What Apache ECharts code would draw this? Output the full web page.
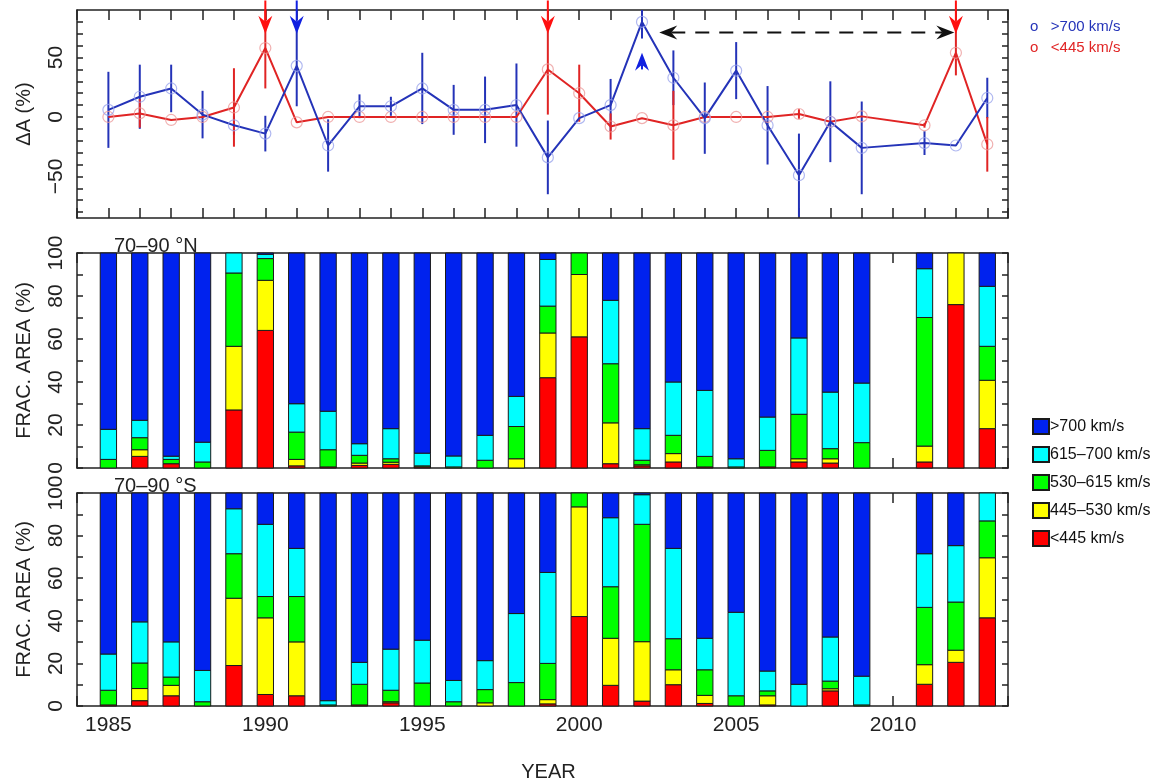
<!DOCTYPE html>
<html><head><meta charset="utf-8">
<script src="https://cdn.jsdelivr.net/npm/echarts@6/dist/echarts.min.js"></script>
<style>html,body{margin:0;padding:0;background:#fff}#c{width:1152px;height:783px}</style>
</head><body><div id="c"></div>
<script>
// ---------- DATA ----------
const years = [1985,1986,1987,1988,1989,1990,1991,1992,1993,1994,1995,1996,1997,1998,1999,2000,2001,2002,2003,2004,2005,2006,2007,2008,2009,2011,2012,2013];

// Top panel: ΔA (%)
const dFast    = [6,17,24,2,-7,-14,43,-24,9,9,24,6,6,10,-34,-1,10,80,33,-1,39,-7,-49,-4,-26,-22,-24,16];
const dFastErr = [32,27,20,20,8,15,34,22,10,8,30,21,28,35,31,0,22,14,23,30,24,33,35,34,39,10,0,17];
const dSlow    = [0,3,-2.5,0,8,58,-4.5,0,0,0,0,0,0,0,40,20,-8,-1,-7,0,0,0,2.5,-4,0.5,-7,54,-23];
const dSlowErr = [0,12,0,0,33,34,0,0,0,0,0,0,0,0,38,24,11,0,29,0,0,0,4,0,0,2,19,23];

// Annotation arrows (years / ΔA values)
const redDownArrowYears  = [1990,1999,2012];
const blueDownArrowYears = [1991];
const blueUpArrowYears   = [2002];
const downArrowFromTo = [98,70];
const upArrowFromTo   = [40,54];
const spanArrow = [2002.55, 2011.95, 71];

// Middle panel: 70-90 °N fractional area (%), bins from slow to fast
const nRed    = [0,5.4,2,0,27,64,1,0.5,1.2,1.7,0.5,0,0,0,42,61,2,1,2.8,0.5,0,0.5,2.8,2.3,0,2.8,76,18.3];
const nYellow = [0,3.1,0,0,29.6,23.3,3,0,1.1,1,0,0,0,4.3,20.8,29,19,0.5,3.9,0,0,0,1.5,2,0,7.4,24,22.5];
const nGreen  = [4,5.6,2,2.8,34.1,10.1,12.7,8,3.6,1.6,0.5,0.5,3.6,15,12.5,10,27.5,2.1,8.5,4.9,0.5,7.7,20.7,4.7,11.8,59.8,0,15.8];
const nCyan   = [14,8.1,1.5,9.2,9.3,2,13.2,17.9,5.4,14,5.9,5.1,11.6,14,21.7,0,29.5,14.7,24.8,30.7,3.8,15.5,35.5,26.3,27.7,22.7,0,27.9];
const nBlue   = [82,77.8,94.5,88,0,0.6,70.1,73.6,88.7,81.7,93.1,94.4,84.8,66.7,3,0,22,81.7,60,63.9,95.7,76.3,39.5,64.7,60.5,7.3,0,15.5];

// Bottom panel: 70-90 °S fractional area (%)
const sRed    = [0.5,2.5,4.8,0,19,5.4,4.8,0,0.5,1.5,0,0,0,0,1,42,9.7,2.3,10,1.2,0,0.5,0,7.1,0,10.2,20.5,41.4];
const sYellow = [0,5.7,4.9,0,31.6,36,25.3,0,0,0.5,0,0,1.5,0,2,51.5,22.1,27.9,7,3.8,0,4.3,0,1,0,9.2,5.7,28.2];
const sGreen  = [6.9,12,3.9,2,20.9,10,21.3,0.5,9.7,5.4,10.8,2,6.2,11,17,6.5,24.2,55.1,14.6,12,4.8,2.3,0,3.6,0.5,26.9,22.6,17.3];
const sCyan   = [17,19.3,16.5,14.7,21.1,33.9,22.6,2,10.3,19.3,20.1,10,13.6,32.4,42.7,0,32.4,13.9,42.4,14.8,39.2,9.3,10.2,20.7,13.5,25.2,26.5,13.1];
const sBlue   = [75.6,60.5,69.9,83.3,7.4,14.7,26,97.5,79.5,73.3,69.1,88,78.7,56.6,37.3,0,11.6,0.8,26,68.2,56,83.6,89.8,67.6,86,28.5,24.7,0];

const binNames = ['<445 km/s','445–530 km/s','530–615 km/s','615–700 km/s','>700 km/s'];
const legendOrder = ['>700 km/s','615–700 km/s','530–615 km/s','445–530 km/s','<445 km/s'];
const dTickValues  = [-80,-70,-60,-50,-40,-30,-20,-10,0,10,20,30,40,50,60,70,80];
const dLabelValues = [-50,0,50];

// ---------- STYLE ----------
const FONT = "'Liberation Sans', Arial, Helvetica, sans-serif";
const INK = '#222';
const BLUE_LINE = '#2433b8', RED_LINE = '#e02424';
const binColors = ['#ff0000','#ffff00','#00ff00','#00ffff','#0022ee'];
const X_MIN = 1984, X_MAX = 2013.66;
const D_MIN = -85, D_MAX = 90;

const grids = [
  {left:77, right:144, top:10, height:208},
  {left:77, right:144, top:253, height:215},
  {left:77, right:144, top:493, height:216}
];

function xAxes(gi, withLabels){
  const base = {
    type:'value', gridIndex:gi, min:X_MIN, max:X_MAX, interval:1,
    axisLine:{show:true, onZero:false, lineStyle:{color:INK, width:1.5}},
    axisTick:{show:true, inside:true, length:10, lineStyle:{color:INK, width:1.5}},
    splitLine:{show:false}
  };
  const bottom = Object.assign({}, base, {position:'bottom',
    axisLabel:{show:withLabels, margin:9, fontSize:21, color:INK, fontFamily:FONT,
      formatter:v => (v % 5 === 0 ? String(v) : '')}});
  if (withLabels){
    Object.assign(bottom, {name:'YEAR', nameLocation:'middle', nameGap:56,
      nameTextStyle:{fontSize:20, color:INK, fontFamily:FONT, padding:[0,0,0,12]}});
  }
  const top = Object.assign({}, base, {position:'top', axisLabel:{show:false}});
  return [bottom, top];
}

function yAxesPct(gi){
  const base = {
    type:'value', gridIndex:gi, min:0, max:100, interval:10,
    axisLine:{show:true, onZero:false, lineStyle:{color:INK, width:1.5}},
    axisTick:{show:true, inside:true, length:6, lineStyle:{color:INK, width:1.5}},
    splitLine:{show:false}
  };
  return [
    Object.assign({}, base, {position:'left',
      name:'FRAC. AREA (%)', nameLocation:'middle', nameGap:43, nameRotate:90,
      nameTextStyle:{fontSize:20, color:INK, fontFamily:FONT},
      axisLabel:{rotate:90, margin:10, fontSize:21, color:INK, fontFamily:FONT,
        formatter:v => (v % 20 === 0 ? String(v) : '')}}),
    Object.assign({}, base, {position:'right', axisLabel:{show:false}})
  ];
}

const dBase = {
  type:'value', gridIndex:0, min:D_MIN, max:D_MAX,
  axisLine:{show:true, onZero:false, lineStyle:{color:INK, width:1.5}},
  axisTick:{show:true, inside:true, length:6, customValues:dTickValues, lineStyle:{color:INK, width:1.5}},
  splitLine:{show:false}
};
const yAxisD = [
  Object.assign({}, dBase, {position:'left',
    name:'ΔA (%)', nameLocation:'middle', nameGap:43, nameRotate:90,
    nameTextStyle:{fontSize:20, color:INK, fontFamily:FONT},
    axisLabel:{rotate:90, margin:10, fontSize:21, color:INK, fontFamily:FONT, customValues:dLabelValues,
      formatter:v => (v < 0 ? '−' + Math.abs(v) : String(v))}}),
  Object.assign({}, dBase, {position:'right', axisLabel:{show:false}})
];

// ---------- SERIES ----------
function errBarSeries(name, vals, errs, color){
  const data = [];
  years.forEach((y,i) => { if (errs[i] > 0) data.push([y, vals[i] - errs[i], vals[i] + errs[i]]); });
  return {
    type:'custom', name:name, xAxisIndex:0, yAxisIndex:0, silent:true, z:3,
    data:data,
    renderItem:(params, api) => {
      const x = api.value(0);
      const lo = Math.max(api.value(1), D_MIN), hi = Math.min(api.value(2), D_MAX);
      const p1 = api.coord([x, lo]), p2 = api.coord([x, hi]);
      return {type:'line', shape:{x1:p1[0], y1:p1[1], x2:p2[0], y2:p2[1]},
        style:{stroke:color, lineWidth:2}};
    }
  };
}

function lineSeries(name, vals, lineColor, markerColor){
  return {
    type:'line', name:name, xAxisIndex:0, yAxisIndex:0, z:4,
    data: years.map((y,i) => [y, vals[i]]),
    symbol:'circle', symbolSize:11, showSymbol:true,
    lineStyle:{color:lineColor, width:2},
    itemStyle:{color:'rgba(0,0,0,0)', borderColor:markerColor, borderWidth:1.2},
    emphasis:{disabled:true}, animation:false
  };
}

function vArrowSeries(xs, fromTo, color){
  return {
    type:'custom', xAxisIndex:0, yAxisIndex:0, silent:true, z:6, clip:false,
    data: xs.map(x => [x, fromTo[0], fromTo[1]]),
    renderItem:(params, api) => {
      const p0 = api.coord([api.value(0), api.value(1)]);
      const p1 = api.coord([api.value(0), api.value(2)]);
      const d = p1[1] > p0[1] ? 1 : -1;
      const hl = 18, hw = 7, notch = 12;
      return {type:'group', children:[
        {type:'line', shape:{x1:p0[0], y1:p0[1], x2:p1[0], y2:p1[1] - d*notch},
          style:{stroke:color, lineWidth:2}},
        {type:'polygon', shape:{points:[[p1[0], p1[1]], [p1[0]-hw, p1[1]-d*hl], [p1[0], p1[1]-d*notch], [p1[0]+hw, p1[1]-d*hl]]},
          style:{fill:color}}
      ]};
    }
  };
}

function spanArrowSeries(){
  return {
    type:'custom', xAxisIndex:0, yAxisIndex:0, silent:true, z:6, clip:false,
    data:[spanArrow],
    renderItem:(params, api) => {
      const a = api.coord([api.value(0), api.value(2)]);
      const b = api.coord([api.value(1), api.value(2)]);
      const hl = 18, hw = 7, notch = 12;
      return {type:'group', children:[
        {type:'line', shape:{x1:a[0]+notch, y1:a[1], x2:b[0]-notch, y2:b[1]},
          style:{stroke:'#111', lineWidth:2, lineDash:[14,10]}},
        {type:'polygon', shape:{points:[[a[0],a[1]],[a[0]+hl,a[1]-hw],[a[0]+notch,a[1]],[a[0]+hl,a[1]+hw]]}, style:{fill:'#111'}},
        {type:'polygon', shape:{points:[[b[0],b[1]],[b[0]-hl,b[1]-hw],[b[0]-notch,b[1]],[b[0]-hl,b[1]+hw]]}, style:{fill:'#111'}}
      ]};
    }
  };
}

// Stacked bars drawn through the axes' scales (bottom/top of each segment)
function stackedBarSeries(panelIdx, arrays){
  const base = years.map(() => 0);
  return arrays.map((arr, k) => {
    const data = [];
    years.forEach((y,i) => {
      const lo = base[i], hi = base[i] + arr[i];
      base[i] = hi;
      if (arr[i] > 0) data.push([y, lo, hi]);
    });
    return {
      type:'custom', name:binNames[k], xAxisIndex:panelIdx*2, yAxisIndex:panelIdx*2,
      silent:true, z:2,
      itemStyle:{color:binColors[k], borderColor:'#1a1a1a', borderWidth:1},
      encode:{x:0, y:[1,2]},
      data:data,
      renderItem:(params, api) => {
        const x = api.value(0);
        const p0 = api.coord([x, api.value(1)]);
        const p1 = api.coord([x, api.value(2)]);
        const w = api.size([1, 0])[0] * 0.52;
        return {type:'rect',
          shape:{x:p0[0] - w/2, y:p1[1], width:w, height:p0[1] - p1[1]},
          style:{fill:binColors[k], stroke:'#1a1a1a', lineWidth:1}};
      }
    };
  });
}

const series = [
  errBarSeries('errFast', dFast, dFastErr, BLUE_LINE),
  errBarSeries('errSlow', dSlow, dSlowErr, RED_LINE),
  lineSeries('ΔA <445 km/s', dSlow, RED_LINE, 'rgba(235,150,150,0.75)'),
  lineSeries('ΔA >700 km/s', dFast, BLUE_LINE, 'rgba(150,160,235,0.75)'),
  vArrowSeries(redDownArrowYears, downArrowFromTo, '#ff1010'),
  vArrowSeries(blueDownArrowYears, downArrowFromTo, '#1020e0'),
  vArrowSeries(blueUpArrowYears, upArrowFromTo, '#1020e0'),
  spanArrowSeries(),
  ...stackedBarSeries(1, [nRed, nYellow, nGreen, nCyan, nBlue]),
  ...stackedBarSeries(2, [sRed, sYellow, sGreen, sCyan, sBlue])
];

const option = {
  animation:false,
  backgroundColor:'#fff',
  textStyle:{fontFamily:FONT},
  title:[
    {text:'70–90 °N', left:109, top:231, textStyle:{fontSize:20, fontWeight:'normal', color:INK, fontFamily:FONT}},
    {text:'70–90 °S', left:109, top:471, textStyle:{fontSize:20, fontWeight:'normal', color:INK, fontFamily:FONT}}
  ],
  legend:[
    {orient:'vertical', left:1020, top:14, itemGap:6, itemWidth:0, itemHeight:15, selectedMode:false,
      icon:'none',
      formatter:n => 'o   ' + n.replace('ΔA ', ''),
      textStyle:{fontSize:15, fontFamily:FONT, padding:[0,0,0,0]},
      data:[
        {name:'ΔA >700 km/s', textStyle:{color:BLUE_LINE}},
        {name:'ΔA <445 km/s', textStyle:{color:RED_LINE}}
      ]},
    {orient:'vertical', left:1027, top:413, itemGap:11, itemWidth:16, itemHeight:15, selectedMode:false,
      icon:'rect', textStyle:{fontSize:16, color:'#111', fontFamily:FONT, padding:[0,0,0,-4]},
      data:legendOrder}
  ],
  grid:grids,
  xAxis:[...xAxes(0,false), ...xAxes(1,false), ...xAxes(2,true)],
  yAxis:[...yAxisD, ...yAxesPct(1), ...yAxesPct(2)],
  series:series
};

const chart = echarts.init(document.getElementById('c'), null, {renderer:'canvas'});
chart.setOption(option);
</script>
</body></html>
